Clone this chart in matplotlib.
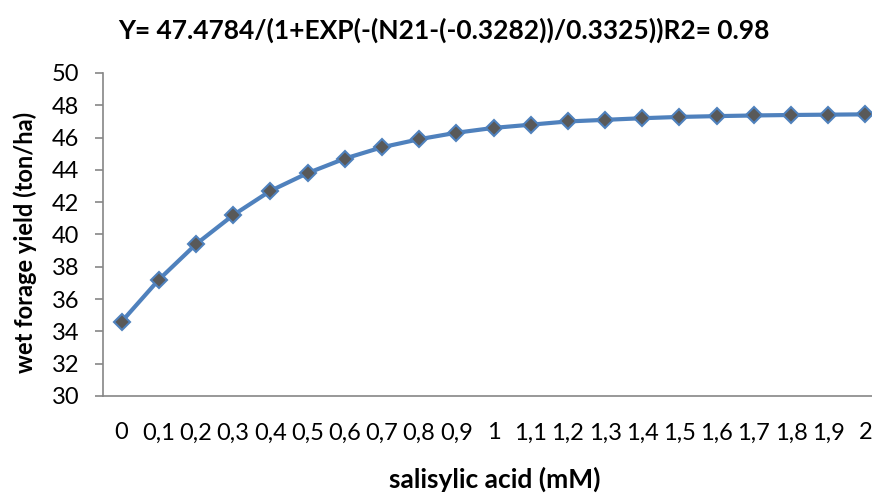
import matplotlib
matplotlib.use("Agg")
import matplotlib.pyplot as plt

labels = ["0", "0,1", "0,2", "0,3", "0,4", "0,5", "0,6", "0,7", "0,8", "0,9", "1",
          "1,1", "1,2", "1,3", "1,4", "1,5", "1,6", "1,7", "1,8", "1,9", "2"]
yield_vals = [34.6, 37.2, 39.4, 41.2, 42.7, 43.8, 44.7, 45.4, 45.9, 46.3, 46.6,
              46.8, 47.0, 47.1, 47.2, 47.28, 47.33, 47.37, 47.4, 47.42, 47.44]

plt.rcParams['font.family'] = ['Lato', 'DejaVu Sans']

fig = plt.figure(figsize=(8.72, 4.93), dpi=100)
ax = fig.add_axes([103/872, 97/493, 781/872, 323/493])

x = list(range(len(labels)))
ax.plot(x, yield_vals, color='#4F81BD', linewidth=3, marker='D', markersize=8,
        markerfacecolor='#595959', markeredgecolor='#4F81BD', markeredgewidth=1.5)

ax.set_xlim(-0.5, len(labels) - 0.5)
ax.set_ylim(30, 50)
ax.set_yticks(range(30, 51, 2))
ax.set_xticks(x)
ax.set_xticklabels(labels)

for s in ['top', 'right']:
    ax.spines[s].set_visible(False)
for s in ['left', 'bottom']:
    ax.spines[s].set_color('#868686')
    ax.spines[s].set_linewidth(1.2)

ax.tick_params(axis='y', length=6, width=1.2, color='#868686', pad=11, labelsize=17)
ax.tick_params(axis='x', length=0, pad=19, labelsize=17)

fig.text(444/872, 1 - 30/493, "Y= 47.4784/(1+EXP(-(N21-(-0.3282))/0.3325))R2= 0.98",
         ha='center', va='center', fontsize=19, fontweight='bold')
fig.text(495/872, 1 - 479/493, "salisylic acid (mM)", ha='center', va='center',
         fontsize=19, fontweight='bold')
fig.text(25/872, 1 - 242/493, "wet forage yield (ton/ha)", ha='center', va='center',
         rotation=90, fontsize=17, fontweight='bold')

fig.savefig("out.png", dpi=100)
